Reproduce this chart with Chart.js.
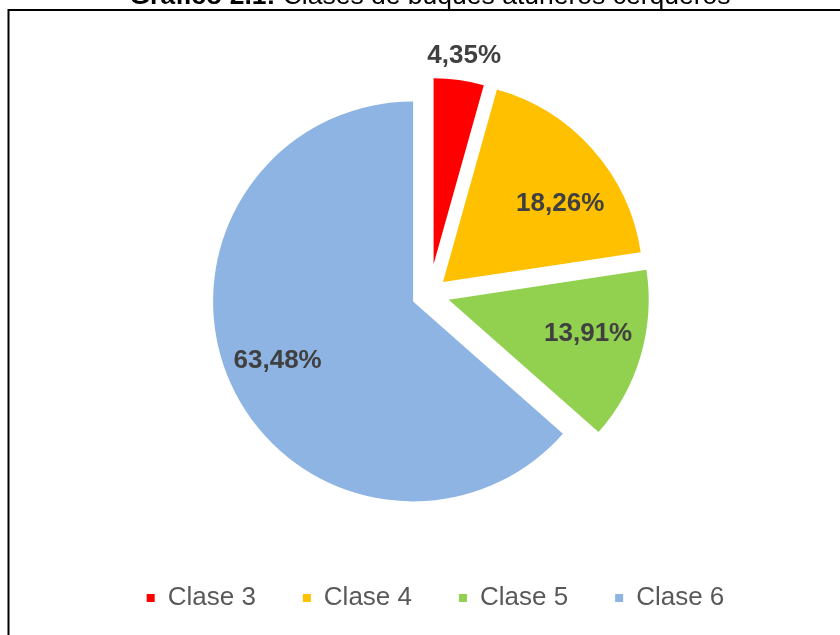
<!DOCTYPE html>
<html>
<head>
<meta charset="utf-8">
<script src="https://cdn.jsdelivr.net/npm/chart.js@4/dist/chart.umd.min.js"></script>
<style>
  html, body { margin: 0; padding: 0; background: #ffffff; }
  #wrap { width: 840px; height: 635px; position: relative; }
</style>
</head>
<body>
<div id="wrap"><canvas id="c" width="840" height="635"></canvas></div>
<script>
// ---- Data ----
const categories = ['Clase 3', 'Clase 4', 'Clase 5', 'Clase 6'];
const percentages = [4.35, 18.26, 13.91, 63.48];
const sliceColors = ['#FF0000', '#FFC000', '#92D050', '#8EB4E3'];
const titleBold = 'Gráfico 2.1:';
const titleRest = ' Clases de buques atuneros cerqueros';

// ---- Style constants ----
const FONT = '"Liberation Sans", Arial, sans-serif';
const RADIUS = 200;
const explodePx = [30, 18, 20, 18];          // explosion distance per slice
const radiusScale = [0.93, 1, 1, 1];          // relative slice radius
const labelFrac = [1.135, 0.704, 0.718, 0.74]; // label distance / slice radius
const labelNudgeDeg = [0.5, 7.8, -2.6, 0.5];  // label angle shift from bisector

const total = percentages.reduce((a, b) => a + b, 0);

const frame = {
  id: 'frame',
  beforeDraw(chart) {
    const ctx = chart.ctx;
    ctx.save();
    ctx.fillStyle = '#ffffff';
    ctx.fillRect(0, 0, chart.width, chart.height);
    ctx.strokeStyle = '#000000';
    ctx.lineWidth = 2;
    ctx.strokeRect(8.5, 10, 1200, 1200);
    ctx.restore();
  },
  afterDraw(chart) {
    const ctx = chart.ctx;
    ctx.save();
    ctx.fillStyle = '#000000';
    ctx.textBaseline = 'alphabetic';
    ctx.font = 'bold 26.5px ' + FONT;
    const w1 = ctx.measureText(titleBold).width;
    ctx.font = '26.5px ' + FONT;
    const w2 = ctx.measureText(titleRest).width;
    const x0 = 430 - (w1 + w2) / 2;
    ctx.font = 'bold 26.5px ' + FONT;
    ctx.fillText(titleBold, x0, 4);
    ctx.font = '26.5px ' + FONT;
    ctx.fillText(titleRest, x0 + w1, 4);
    ctx.restore();
  }
};

// Explode each slice along its bisector
const explode = {
  id: 'explode',
  afterDatasetUpdate(chart, args) {
    const meta = chart.getDatasetMeta(args.index);
    meta.data.forEach((arc, i) => {
      const mid = (arc.startAngle + arc.endAngle) / 2;
      arc.x += Math.cos(mid) * explodePx[i];
      arc.y += Math.sin(mid) * explodePx[i];
      arc.outerRadius = arc.outerRadius * radiusScale[i];
    });
  },
  afterLayout(chart) {
    chart.legend.left += 6;
    chart.legend.right += 6;
  }
};

const sliceLabels = {
  id: 'sliceLabels',
  afterDatasetsDraw(chart) {
    const ctx = chart.ctx;
    const meta = chart.getDatasetMeta(0);
    ctx.save();
    ctx.font = 'bold 26px ' + FONT;
    ctx.fillStyle = '#404040';
    ctx.textAlign = 'center';
    ctx.textBaseline = 'middle';
    meta.data.forEach((arc, i) => {
      const mid = (arc.startAngle + arc.endAngle) / 2 + labelNudgeDeg[i] * Math.PI / 180;
      const d = labelFrac[i] * arc.outerRadius;
      const text = percentages[i].toFixed(2).replace('.', ',') + '%';
      ctx.fillText(text, arc.x + Math.cos(mid) * d, arc.y + Math.sin(mid) * d);
    });
    ctx.restore();
  }
};

new Chart(document.getElementById('c'), {
  type: 'pie',
  data: {
    labels: categories,
    datasets: [{
      data: percentages,
      backgroundColor: sliceColors,
      borderWidth: 0,
      radius: RADIUS
    }]
  },
  options: {
    responsive: false,
    animation: false,
    events: [],
    layout: { padding: { top: 50, left: 19, right: 0, bottom: 14 } },
    plugins: {
      tooltip: { enabled: false },
      title: { display: false },
      legend: {
        display: true,
        position: 'bottom',
        labels: {
          boxWidth: 8,
          boxHeight: 8,
          padding: 47,
          color: '#595959',
          font: { family: FONT, size: 26 }
        }
      }
    }
  },
  plugins: [explode, frame, sliceLabels]
});
</script>
</body>
</html>
